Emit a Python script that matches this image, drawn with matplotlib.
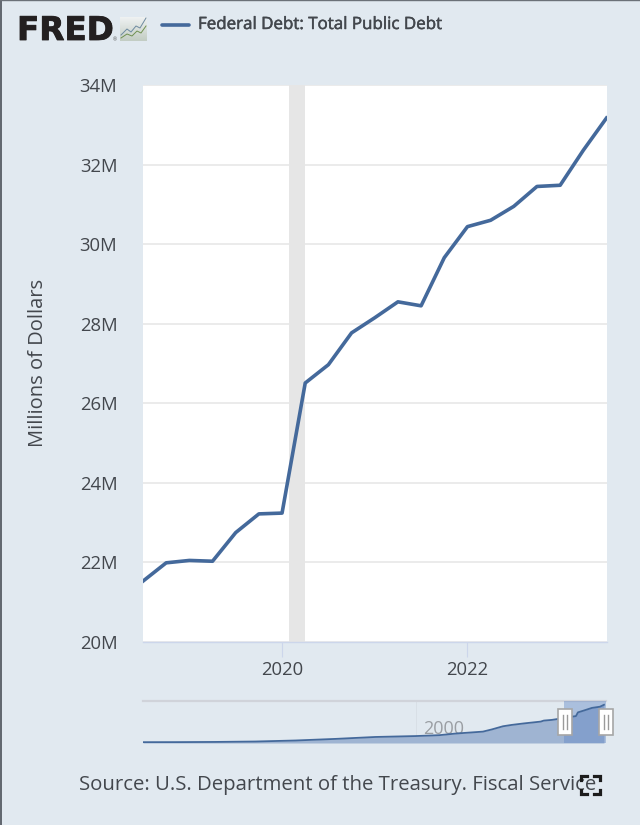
import numpy as np
import matplotlib
matplotlib.use('Agg')
import matplotlib.pyplot as plt
import matplotlib.patheffects as pe
from matplotlib.patches import Rectangle

# quarterly debt, millions of dollars (shown in M = trillions-ish labels)
quarters = [2018.5, 2018.75, 2019.0, 2019.25, 2019.5, 2019.75, 2020.0, 2020.25, 2020.5, 2020.75,
            2021.0, 2021.25, 2021.5, 2021.75, 2022.0, 2022.25, 2022.5, 2022.75, 2023.0, 2023.25, 2023.5]
debt = [21.53, 21.99, 22.05, 22.03, 22.75, 23.22, 23.24, 26.51, 26.97, 27.77,
        28.15, 28.55, 28.45, 29.66, 30.44, 30.6, 30.95, 31.45, 31.48, 32.36, 33.17]
recession = [2020.08, 2020.25]
y_ticks = [20, 22, 24, 26, 28, 30, 32, 34]
x_ticks = [2020, 2022]

# navigator series, whole history
nav_years = [1966, 1970, 1975, 1980, 1985, 1990, 1995, 2000, 2003, 2005, 2007, 2008.4, 2009.5,
             2010.9, 2012, 2013.5, 2015.6, 2016, 2017, 2018.5, 2019.5, 2020, 2020.25, 2021, 2022, 2023, 2023.5]
nav_debt = [0.32, 0.37, 0.53, 0.9, 1.8, 3.2, 4.9, 5.7, 6.5, 7.9, 8.9, 9.6, 11.5,
            14.3, 15.5, 16.8, 18.4, 19.3, 19.9, 21.53, 22.75, 23.24, 26.51, 28.15, 30.44, 31.48, 33.17]

bg = '#e1e9f0'
txt = '#43474d'
line_col = '#44699b'
font = 'Open Sans'
W, H = 640, 825

plt.rcParams['font.family'] = font

fig = plt.figure(figsize=(W / 100, H / 100), dpi=100, facecolor=bg)


def px_axes(x0, y_top, x1, y_bot):
    return fig.add_axes([x0 / W, 1 - y_bot / H, (x1 - x0) / W, (y_bot - y_top) / H])


# main chart
ax = px_axes(143, 85, 606.5, 642)
ax.set_facecolor('white')
ax.axvspan(recession[0], recession[1], color='#e6e6e6', lw=0, zorder=1)
ax.grid(axis='y', color='#e6e6e6', lw=1.1, zorder=0)
ax.plot(quarters, debt, color=line_col, lw=2.6, solid_joinstyle='round', zorder=3)
ax.set_xlim(2018.5, 2023.5)
ax.set_ylim(20, 34)
ax.set_yticks(y_ticks)
ax.set_yticklabels([str(v) + 'M' for v in y_ticks])
ax.set_xticks(x_ticks)
ax.set_xticklabels([str(v) for v in x_ticks])
ax.tick_params(axis='y', length=0, pad=18.5, labelsize=13.3, labelcolor=txt)
ax.tick_params(axis='x', length=11, width=0.8, color='#ccd6eb', pad=3, labelsize=13.3, labelcolor=txt)
for s in ['top', 'left', 'right']:
    ax.spines[s].set_visible(False)
ax.spines['bottom'].set_color('#ccd6eb')
ax.spines['bottom'].set_linewidth(1)
ax.set_axisbelow(True)

# navigator
nav = px_axes(143, 701, 606, 743)
nav.patch.set_alpha(0)
nav.set_xlim(1966, 2023.75)
nav.set_ylim(-0.4, 36.5)
nav.fill_between(nav_years, nav_debt, -0.4, color='#9fb4d2', lw=0, zorder=2)
nav.plot(nav_years, nav_debt, color=line_col, lw=1.3, zorder=4)
nav.axvline(2000, color='#d8dfe6', lw=0.7, zorder=1)
nav.axvspan(2018.5, 2023.75, color='#5f86c4', alpha=0.42, lw=0, zorder=3)
nav.text(2003.5, 11.5, '2000', color='#9a9ea3', fontsize=13, ha='center', va='center', zorder=2.5)
nav.set_xticks([])
nav.set_yticks([])
for s in ['left', 'right', 'bottom']:
    nav.spines[s].set_visible(False)
nav.spines['top'].set_color('#d0d3da')
nav.spines['top'].set_linewidth(1.6)

# page furniture in pixel coordinates
page = fig.add_axes([0, 0, 1, 1], zorder=10)
page.set_xlim(0, W)
page.set_ylim(H, 0)
page.axis('off')
page.patch.set_alpha(0)

page.plot([0.5, 0.5], [0, H], color='#4a5058', lw=1.2)
page.plot([0, W], [0.3, 0.3], color='#6b7178', lw=1)

# logo
page.text(17, 30.5, 'FRED', fontsize=23.5, fontweight='bold', color='#231f20', ha='left', va='center',
          family='DejaVu Sans',
          path_effects=[pe.withStroke(linewidth=0.6, foreground='#231f20')])
page.text(113, 40, '®', fontsize=3.5, color='#555555', ha='left', va='center')
grad = np.linspace(0, 1, 24).reshape(-1, 1)
page.imshow(grad, extent=(120, 147, 41, 17), cmap=matplotlib.colors.LinearSegmentedColormap.from_list(
    'logo', ['#eef1f1', '#c3cdc4']), aspect='auto', zorder=1)
page.plot([121, 127, 131, 136, 140, 146], [35, 29, 32, 26, 28, 18], color='#6d8aa0', lw=0.7, zorder=2)
page.plot([121, 127, 132, 137, 141, 146], [38, 34, 36, 31, 33, 26], color='#6f9050', lw=0.7, zorder=2)
page.set_xlim(0, W)
page.set_ylim(H, 0)

# legend
page.plot([162, 189], [25, 25], color=line_col, lw=2.6, solid_capstyle='round')
page.text(198, 25, 'Federal Debt: Total Public Debt', fontsize=12.2, color=txt, ha='left', va='center',
          path_effects=[pe.withStroke(linewidth=0.35, foreground=txt)])

# y title and source
page.text(38, 362.5, 'Millions of Dollars', fontsize=14.5, color=txt, rotation=90, ha='center', va='center')
page.text(79, 785, 'Source: U.S. Department of the Treasury. Fiscal Service', fontsize=14.65, color=txt,
          ha='left', va='center')

# navigator handles
for hx in [565, 606]:
    page.add_patch(Rectangle((hx - 7, 709), 14, 26, facecolor='white', edgecolor='#a6a6a6', lw=1.2, zorder=5))
    for dx in [-1.6, 1.6]:
        page.plot([hx + dx, hx + dx], [715, 729], color='#9a9a9a', lw=1, zorder=6)

# fullscreen icon
for cx, sx in [(581, 1), (600, -1)]:
    for cy, sy in [(776, 1), (794, -1)]:
        page.plot([cx + 6 * sx, cx, cx], [cy, cy, cy + 4 * sy], color='#1c1c1c', lw=2.3, zorder=7,
                  solid_joinstyle='miter')

fig.savefig('out.png', dpi=100, facecolor=bg)
